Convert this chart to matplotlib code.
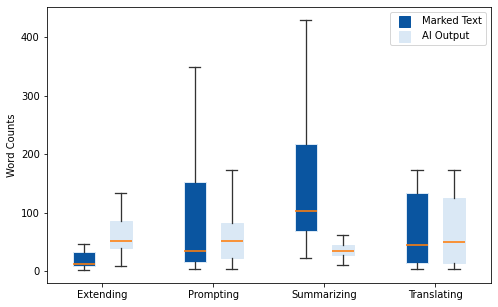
import numpy as np
import matplotlib
matplotlib.use('Agg')
import matplotlib.pyplot as plt
from matplotlib.lines import Line2D

tasks = ['Extending', 'Prompting', 'Summarizing', 'Translating']

#box stats: whislo, q1, med, q3, whishi
marked_lo = [2, 3, 23, 3]
marked_q1 = [9, 16, 68, 13]
marked_med = [12.5, 35, 102, 44]
marked_q3 = [32, 152, 218, 133]
marked_hi = [47, 350, 430, 173]

ai_lo = [8.5, 4, 10, 4]
ai_q1 = [39, 22, 28, 14]
ai_med = [52, 52, 35, 50]
ai_q3 = [85, 83, 45, 125]
ai_hi = [134, 173, 61, 173]

dark = '#0a55a0'
light = '#dae8f5'

def make_stats(lo, q1, med, q3, hi):
    return [{'whislo': a, 'q1': b, 'med': c, 'q3': d, 'whishi': e, 'fliers': []}
            for a, b, c, d, e in zip(lo, q1, med, q3, hi)]

fig = plt.figure(figsize=(498/72., 307/72.), dpi=72)
ax = fig.add_axes([46.7/498, 24/307, (491-46.7)/498, 276/307])

x = np.arange(1, len(tasks)+1)
off = 1/6.
w = 0.2

for stats, pos, col in [(make_stats(marked_lo, marked_q1, marked_med, marked_q3, marked_hi), x-off, dark),
                        (make_stats(ai_lo, ai_q1, ai_med, ai_q3, ai_hi), x+off, light)]:
    ax.bxp(stats, positions=pos, widths=w, patch_artist=True, showfliers=False,
           boxprops={'facecolor': col, 'edgecolor': light, 'linewidth': 1},
           whiskerprops={'color': '#333333', 'linewidth': 1.3},
           capprops={'color': '#333333', 'linewidth': 1.3},
           medianprops={'color': '#ff7f0e', 'linewidth': 1.6})

ax.set_xlim(0.5, 4.5)
ax.set_ylim(-20.5, 452)
ax.set_xticks(x)
ax.set_xticklabels(tasks)
ax.set_yticks([0, 100, 200, 300, 400])
ax.set_ylabel('Word Counts')

handles = [Line2D([], [], marker='s', linestyle='None', markersize=11, color=dark, label='Marked Text'),
           Line2D([], [], marker='s', linestyle='None', markersize=11, color=light, label='AI Output')]
ax.legend(handles=handles, loc='upper right')

fig.savefig('out.png', dpi=72)
